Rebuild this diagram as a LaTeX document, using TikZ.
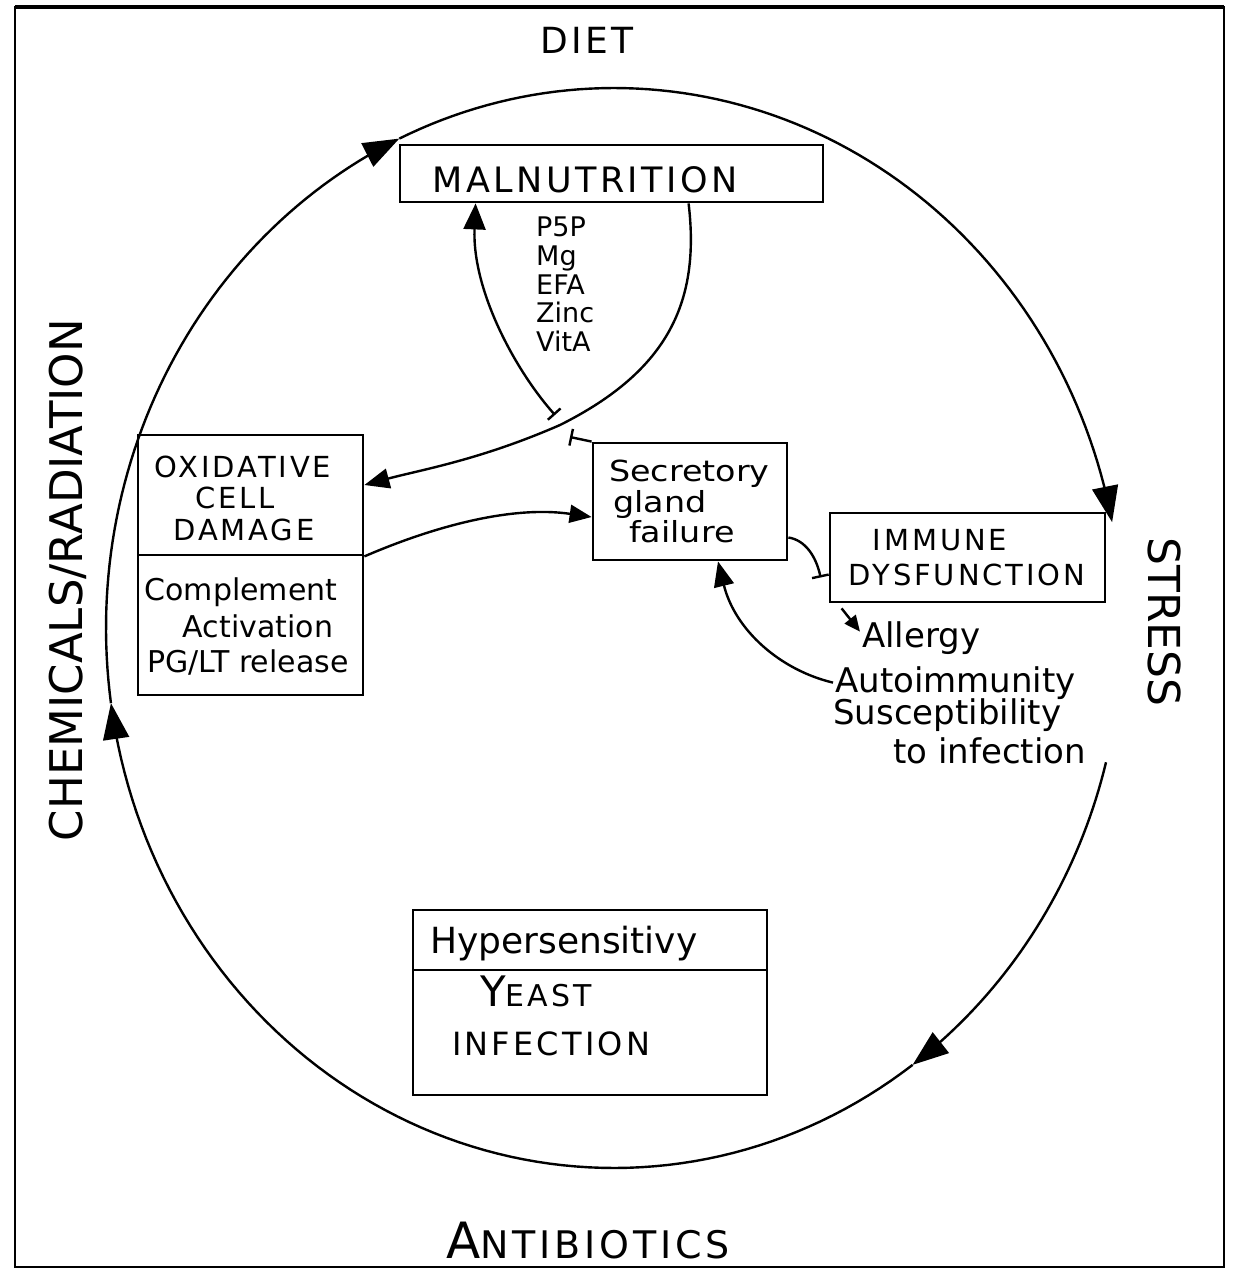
\documentclass[tikz,border=0pt]{standalone}
\usepackage{fontspec}
\usepackage{graphicx}
\setmainfont{DejaVu Sans}
\newfontfamily\capsfont[LetterSpace=10]{DejaVu Sans}
\usetikzlibrary{arrows.meta,calc}
\newcommand{\fs}[1]{\fontsize{#1}{#1}\selectfont}
\begin{document}
\begin{tikzpicture}[x=1pt,y=-1pt,
  box/.style={draw, line width=2.8pt, inner sep=0pt},
  lbl/.style={inner sep=0pt, anchor=base},
  lblw/.style={inner sep=0pt, anchor=base west},
  ln/.style={line width=2.4pt},
  bigtip/.style={-{Triangle[length=36pt,width=26pt]}},
  midtip/.style={-{Triangle[length=25pt,width=20pt]}},
  smalltip/.style={-{Triangle[length=16pt,width=14pt]}},
  bartip/.style={-{Bar[width=17pt]}},
  barstart/.style={{Bar[width=17pt]}-},
]
\useasboundingbox (0,0) rectangle (1235,1272);
% frame
\draw[line width=2.6pt] (15,7) rectangle (1224,1267);
\draw[line width=4pt] (15,7) -- (1224,7);

% outer cycle
\draw[ln, bigtip] plot[domain=14.4:54, samples=40] ({614+508*cos(\x)},{628+540*sin(\x)});
\draw[ln, bigtip] plot[domain=54:172, samples=80] ({614+508*cos(\x)},{628+540*sin(\x)});
\draw[ln, bigtip] plot[domain=172:245, samples=60] ({614+508*cos(\x)},{628+540*sin(\x)});
\draw[ln, bigtip] plot[domain=245:348.7, samples=80] ({614+508*cos(\x)},{628+540*sin(\x)});

% outer labels
\node[lbl, font=\capsfont\fs{36}] (diet) at (587,53) {DIET};
\node[lbl] (anti) at (588,1258) {\capsfont{\fs{50}A}{\fs{38}NTIBIOTICS}};
\node[rotate=90, inner sep=0pt, font=\fs{45}] (chem) at (68,580) {CHEMICALS/RADIATION};
\node[rotate=-90, inner sep=0pt, font=\fs{44}] (stress) at (1165,622) {STRESS};

% boxes
\node[box, minimum width=423pt, minimum height=57pt] (mal) at (611.5,173.5) {};
\node[lbl, font=\capsfont\fs{35}] (malt) at (585,192) {MALNUTRITION};
\node[inner sep=0pt, anchor=north west, align=left, font=\fontsize{27}{28.7}\selectfont] (nutr) at (536,217) {P5P\\Mg\\EFA\\Zinc\\VitA};

\node[box, minimum width=225pt, minimum height=120pt] (oxtop) at (250.5,495) {};
\node[box, minimum width=225pt, minimum height=140pt] (oxbot) at (250.5,625) {};
\node[lbl, font=\capsfont\fs{29}] (ox1) at (243,477) {OXIDATIVE};
\node[lbl, font=\capsfont\fs{29}] (ox2) at (235,508) {CELL};
\node[lbl, font=\capsfont\fs{29}] (ox3) at (244,540) {DAMAGE};
\node[lbl, font=\fs{30}] (cp1) at (241,600) {Complement};
\node[lbl, font=\fs{30}] (cp2) at (258,637) {Activation};
\node[lbl, font=\fs{30}] (cp3) at (248,672) {PG/LT release};

\node[box, minimum width=194pt, minimum height=117pt] (sec) at (690,501.5) {};
\node[lblw, font=\fs{29}] (sec1) at (609,481) {\scalebox{1.15}[1]{Secretory}};
\node[lblw, font=\fs{29}] (sec2) at (613,512) {\scalebox{1.15}[1]{gland}};
\node[lblw, font=\fs{29}] (sec3) at (629,542) {\scalebox{1.15}[1]{failure}};

\node[box, minimum width=275pt, minimum height=89pt] (imm) at (967.5,557.5) {};
\node[lbl, font=\capsfont\fs{29}] (imm1) at (940,550) {IMMUNE};
\node[lbl, font=\capsfont\fs{29}] (imm2) at (967,585) {DYSFUNCTION};

\node[lblw, font=\fs{34}] (allergy) at (862,647) {Allergy};
\node[lblw, font=\fs{34}] (auto) at (835,692) {Autoimmunity};
\node[lblw, font=\fs{34}] (susc) at (833,724) {Susceptibility};
\node[lblw, font=\fs{34}] (toinf) at (893,763) {to infection};

\node[box, minimum width=354pt, minimum height=60pt] (hyptop) at (590,940) {};
\node[box, minimum width=354pt, minimum height=125pt] (hypbot) at (590,1032.5) {};
\node[lblw, font=\fs{36}] (hyp) at (430,953) {Hypersensitivy};
\node[lblw] (yeast) at (480,1006) {\capsfont{\fs{42}Y}{\fs{30}EAST}};
\node[lblw, font=\capsfont\fs{32}] (infec) at (452,1055) {INFECTION};

% connectors
\coordinate (t1) at (555,415);
\coordinate (t2) at (570,437);
\coordinate (t3) at ($(imm.west)+(-8,20)$);
\draw[ln, {Bar[width=17pt]}-{Triangle[length=26pt,width=22pt]}] (t1) .. controls (515,370) and (472,290) .. ($(mal.south west)+(77,0)$);
\draw[ln, midtip] ($(mal.south west)+(290,0)$) .. controls (700,300) and (670,370) .. (560,425)
   .. controls (480,460) and (420,470) .. ($(oxtop.east)+(0,-10)$);
\draw[ln, barstart] (t2) -- (sec.north west);
\draw[ln, {Triangle[length=22pt,width=18pt]}-] ($(sec.west)+(0,15.5)$) .. controls (510,505) and (430,528) .. (oxtop.south east);
\draw[ln, bartip] ($(sec.east)+(0,36)$) .. controls (805,540) and (816,556) .. (t3);
\draw[ln, smalltip] ($(imm.south west)+(13,5)$) -- ($(allergy.west)+(-2,-6)$);
\draw[ln, midtip] ($(auto.west)+(-2,0)$) .. controls (780,670) and (735,630) .. ($(sec.south)+(28,0)$);
\end{tikzpicture}
\end{document}
